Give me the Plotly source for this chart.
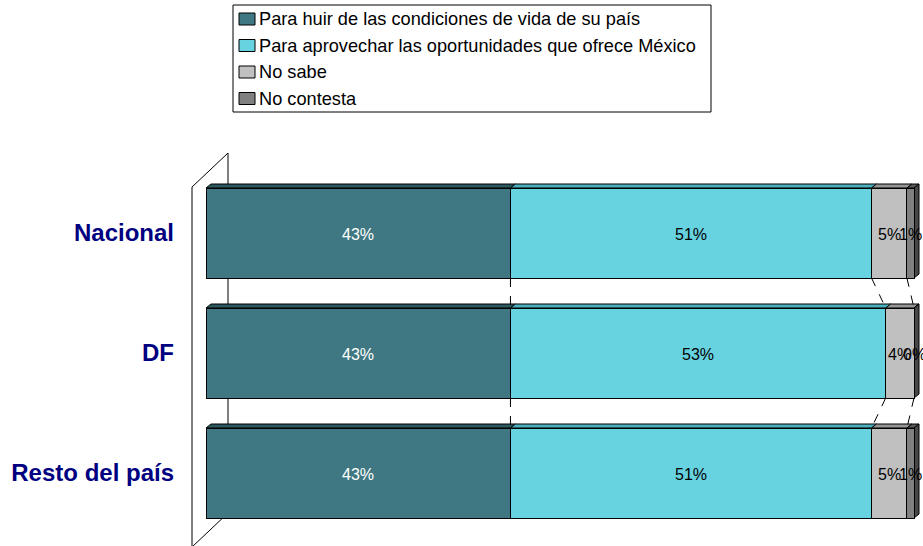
import plotly.graph_objects as go

categories = ["Nacional", "DF", "Resto del país"]
series_names = [
    "Para huir de las condiciones de vida de su país",
    "Para aprovechar las oportunidades que ofrece México",
    "No sabe",
    "No contesta",
]
huir = [43, 43, 43]
aprovechar = [51, 53, 51]
no_sabe = [5, 4, 5]
no_contesta = [1, 0, 1]
series_values = [huir, aprovechar, no_sabe, no_contesta]

front_colors = ["#3F7882", "#68D3E0", "#C0C0C0", "#808080"]
top_colors = ["#2C5960", "#4BAFBC", "#969696", "#5A5A5A"]
side_color = "#474747"
text_colors = ["white", "black", "black", "black"]
FONT = "Liberation Sans, Arial, sans-serif"

W, H = 923, 546
# pixel geometry
ML, MR, MT, MB = 191, 2, 150, 0
X0_PX, X100_PX = 206, 914
PXX = (X100_PX - X0_PX) / 100.0
ROW_PX = 120.0
CENTER0_PX = 233
plot_w = W - ML - MR
plot_h = H - MT - MB
x_range = [(ML - X0_PX) / PXX, (ML + plot_w - X0_PX) / PXX]
y_top = (MT - CENTER0_PX) / ROW_PX
y_bot = (MT + plot_h - CENTER0_PX) / ROW_PX


def pxx(p):
    return (p - ML) / plot_w


def pxy(p):
    return (MT + plot_h - p) / plot_h


ypos = list(range(len(categories)))
bar_w = 0.75
dx = 5 / PXX
dy = 4 / ROW_PX

fig = go.Figure()
for name, vals, fc in zip(series_names, series_values, front_colors):
    fig.add_trace(go.Bar(
        y=ypos, x=vals, name=name, orientation="h", width=bar_w,
        marker=dict(color=fc, line=dict(color="black", width=1)),
        hoverinfo="skip", showlegend=False,
    ))

shapes = []
annotations = []
# back wall (axis wall)
wf = (192 - X0_PX) / PXX
wb = (228 - X0_PX) / PXX
wall_front_top = (187 - CENTER0_PX) / ROW_PX
wall_back_top = (153 - CENTER0_PX) / ROW_PX
wall_depth_y = wall_front_top - wall_back_top
wall_front_bot = (547 - CENTER0_PX) / ROW_PX
shapes.append(dict(
    type="path", xref="x", yref="y", layer="below",
    path=(f"M{wf},{wall_front_bot} L{wf},{wall_front_top} L{wb},{wall_back_top} "
          f"L{wb},{wall_front_bot - wall_depth_y} Z"),
    line=dict(color="black", width=1), fillcolor="rgba(0,0,0,0)",
))

# 3D top faces, side faces and value labels
for i, y in enumerate(ypos):
    yt = y - bar_w / 2
    yb = y + bar_w / 2
    cum = 0
    for vals, tcol, txc in zip(series_values, top_colors, text_colors):
        x0 = cum
        x1 = cum + vals[i]
        cum = x1
        shapes.append(dict(
            type="path", xref="x", yref="y", layer="below",
            path=f"M{x0},{yt} L{x1},{yt} L{x1 + dx},{yt - dy} L{x0 + dx},{yt - dy} Z",
            fillcolor=tcol, line=dict(color="black", width=1),
        ))
        annotations.append(dict(
            x=(x0 + x1) / 2, y=y, xref="x", yref="y", text=f"{vals[i]}%",
            showarrow=False, xanchor="center", yanchor="middle", yshift=-1,
            font=dict(family=FONT, size=16, color=txc),
        ))
    shapes.append(dict(
        type="path", xref="x", yref="y", layer="below",
        path=f"M{cum},{yt} L{cum},{yb} L{cum + dx},{yb - dy} L{cum + dx},{yt - dy} Z",
        fillcolor=side_color, line=dict(color="black", width=1),
    ))

# series lines between consecutive bars
for i in range(len(categories) - 1):
    c_a = 0
    c_b = 0
    for vals in series_values[:-1]:
        c_a += vals[i]
        c_b += vals[i + 1]
        shapes.append(dict(
            type="line", xref="x", yref="y", layer="below",
            x0=c_a, y0=ypos[i] + bar_w / 2, x1=c_b, y1=ypos[i + 1] - bar_w / 2,
            line=dict(color="black", width=1, dash="dash"),
        ))

# legend box
shapes.append(dict(
    type="rect", xref="paper", yref="paper",
    x0=pxx(233), x1=pxx(711), y0=pxy(112), y1=pxy(5),
    line=dict(color="black", width=1), fillcolor="white", layer="above",
))
row_px = [19, 45.5, 72, 98.5]
for name, fc, cy in zip(series_names, front_colors, row_px):
    shapes.append(dict(
        type="rect", xref="paper", yref="paper",
        x0=pxx(239), x1=pxx(255), y0=pxy(cy + 6), y1=pxy(cy - 6),
        line=dict(color="black", width=1), fillcolor=fc, layer="above",
    ))
    annotations.append(dict(
        x=pxx(257), y=pxy(cy), xref="paper", yref="paper", text=name,
        showarrow=False, xanchor="left", yanchor="middle",
        font=dict(family=FONT, size=18.2, color="black"),
    ))

fig.update_layout(
    width=W, height=H,
    barmode="stack",
    margin=dict(l=ML, r=MR, t=MT, b=MB, pad=0),
    paper_bgcolor="white",
    plot_bgcolor="rgba(0,0,0,0)",
    font=dict(family=FONT, color="black"),
    shapes=shapes,
    annotations=annotations,
    showlegend=False,
    xaxis=dict(range=x_range, visible=False, fixedrange=True),
    yaxis=dict(
        range=[y_bot, y_top], tickmode="array", tickvals=ypos, ticktext=categories,
        showgrid=False, zeroline=False, showline=False, ticks="",
        ticklabelstandoff=16, fixedrange=True,
        tickfont=dict(family=FONT, size=24, color="#000080", weight="bold"),
    ),
)

fig.write_html("out.html", config={"displayModeBar": False},
               post_script="document.body.style.margin='0px';")
